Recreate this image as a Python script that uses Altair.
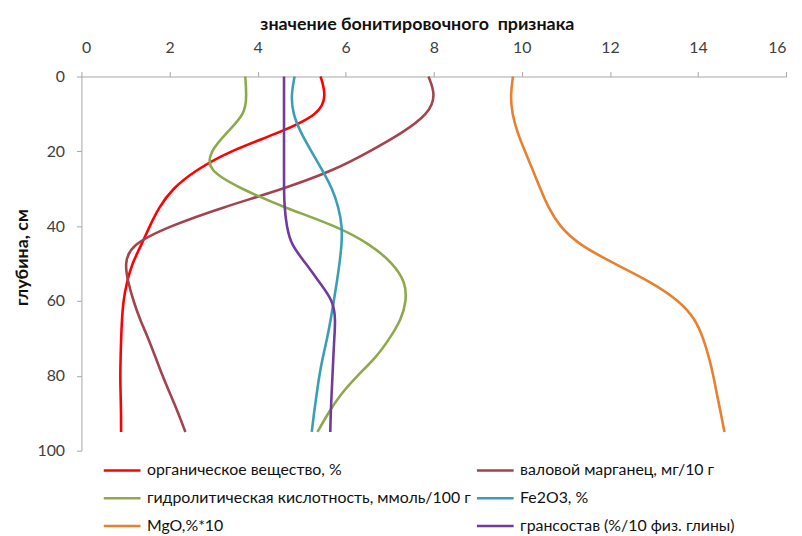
import altair as alt
import pandas as pd

depth = [0, 5, 10, 15, 20, 25, 30, 35, 40, 45, 50, 55, 60, 65, 70, 75, 80, 85, 90, 95]

series_names = [
    "органическое вещество, %",
    "валовой марганец, мг/10 г",
    "гидролитическая кислотность, ммоль/100 г",
    "Fe2O3, %",
    "MgO,%*10",
    "грансостав (%/10 физ. глины)",
]
series_colors = ["#FF0000", "#A3434E", "#8DA94A", "#3A9FB6", "#E8802F", "#6F3B9E"]

organic = [5.43, 5.56, 5.42, 4.50, 3.35, 2.60, 2.06, 1.76, 1.55, 1.36, 1.15, 1.03, 0.95, 0.92, 0.90, 0.89, 0.88, 0.89, 0.90, 0.90]
manganese = [7.88, 8.05, 7.88, 7.30, 6.55, 5.75, 4.60, 3.20, 2.00, 1.12, 0.98, 1.06, 1.18, 1.33, 1.52, 1.68, 1.84, 2.02, 2.20, 2.36]
acidity = [3.72, 3.75, 3.72, 3.30, 2.92, 2.85, 3.62, 4.60, 5.80, 6.58, 7.08, 7.36, 7.38, 7.26, 7.00, 6.70, 6.26, 5.88, 5.60, 5.36]
fe2o3 = [4.84, 4.76, 4.80, 4.98, 5.22, 5.47, 5.70, 5.84, 5.92, 5.91, 5.86, 5.80, 5.73, 5.66, 5.58, 5.48, 5.40, 5.34, 5.28, 5.23]
mgo = [9.80, 9.74, 9.78, 9.90, 10.07, 10.25, 10.42, 10.60, 10.85, 11.30, 12.10, 12.95, 13.58, 13.95, 14.12, 14.25, 14.35, 14.43, 14.52, 14.60]
granulo = [4.60, 4.60, 4.60, 4.60, 4.60, 4.60, 4.60, 4.61, 4.66, 4.76, 5.10, 5.40, 5.72, 5.77, 5.74, 5.72, 5.70, 5.68, 5.66, 5.65]

x_ticks = [0, 2, 4, 6, 8, 10, 12, 14, 16]
y_ticks = [0, 20, 40, 60, 80, 100]

rows = []
for name, vals in zip(series_names, [organic, manganese, acidity, fe2o3, mgo, granulo]):
    for d, v in zip(depth, vals):
        rows.append({"series": name, "depth": d, "value": v})
df = pd.DataFrame(rows)

font = "Lato"

chart = alt.Chart(df).mark_line(interpolate="basis", strokeWidth=2.6).encode(
    x=alt.X("value:Q",
            scale=alt.Scale(domain=[0, 16], nice=False),
            axis=alt.Axis(orient="top", values=x_ticks,
                          title="значение бонитировочного\u00a0 признака",
                          grid=False, domainColor="#a6a6a6", tickColor="#a6a6a6", tickSize=5,
                          labelPadding=16, labelFontSize=16, labelColor="#404040", labelFont=font,
                          titleFont=font, titleFontSize=18, titleFontWeight="bold",
                          titleColor="#111111", titlePadding=6, titleX=338)),
    y=alt.Y("depth:Q",
            scale=alt.Scale(domain=[0, 100], reverse=True, nice=False),
            axis=alt.Axis(values=y_ticks, title="глубина, см", grid=False,
                          domainColor="#a6a6a6", tickColor="#a6a6a6", tickSize=5,
                          labelPadding=12, labelFontSize=16, labelColor="#404040", labelFont=font,
                          titleFont=font, titleFontSize=18, titleFontWeight="bold",
                          titleColor="#111111", titlePadding=6, titleY=182)),
    color=alt.Color("series:N",
                    scale=alt.Scale(domain=series_names, range=series_colors),
                    legend=alt.Legend(title=None, orient="none", legendX=21, legendY=377,
                                      columns=2, direction="horizontal", symbolType="stroke",
                                      symbolSize=1370, symbolStrokeWidth=2.5, rowPadding=-6,
                                      columnPadding=0, labelFont=font, labelFontSize=16,
                                      labelColor="#111111", labelOffset=5, labelLimit=500)),
    order=alt.Order("depth:Q"),
).properties(
    width=710, height=377,
    autosize=alt.AutoSizeParams(type="none"),
    padding={"left": 74, "top": 67, "right": 8, "bottom": 86},
).configure_view(stroke=None)

chart.save("out.html", embed_options={"renderer": "svg", "actions": False})
